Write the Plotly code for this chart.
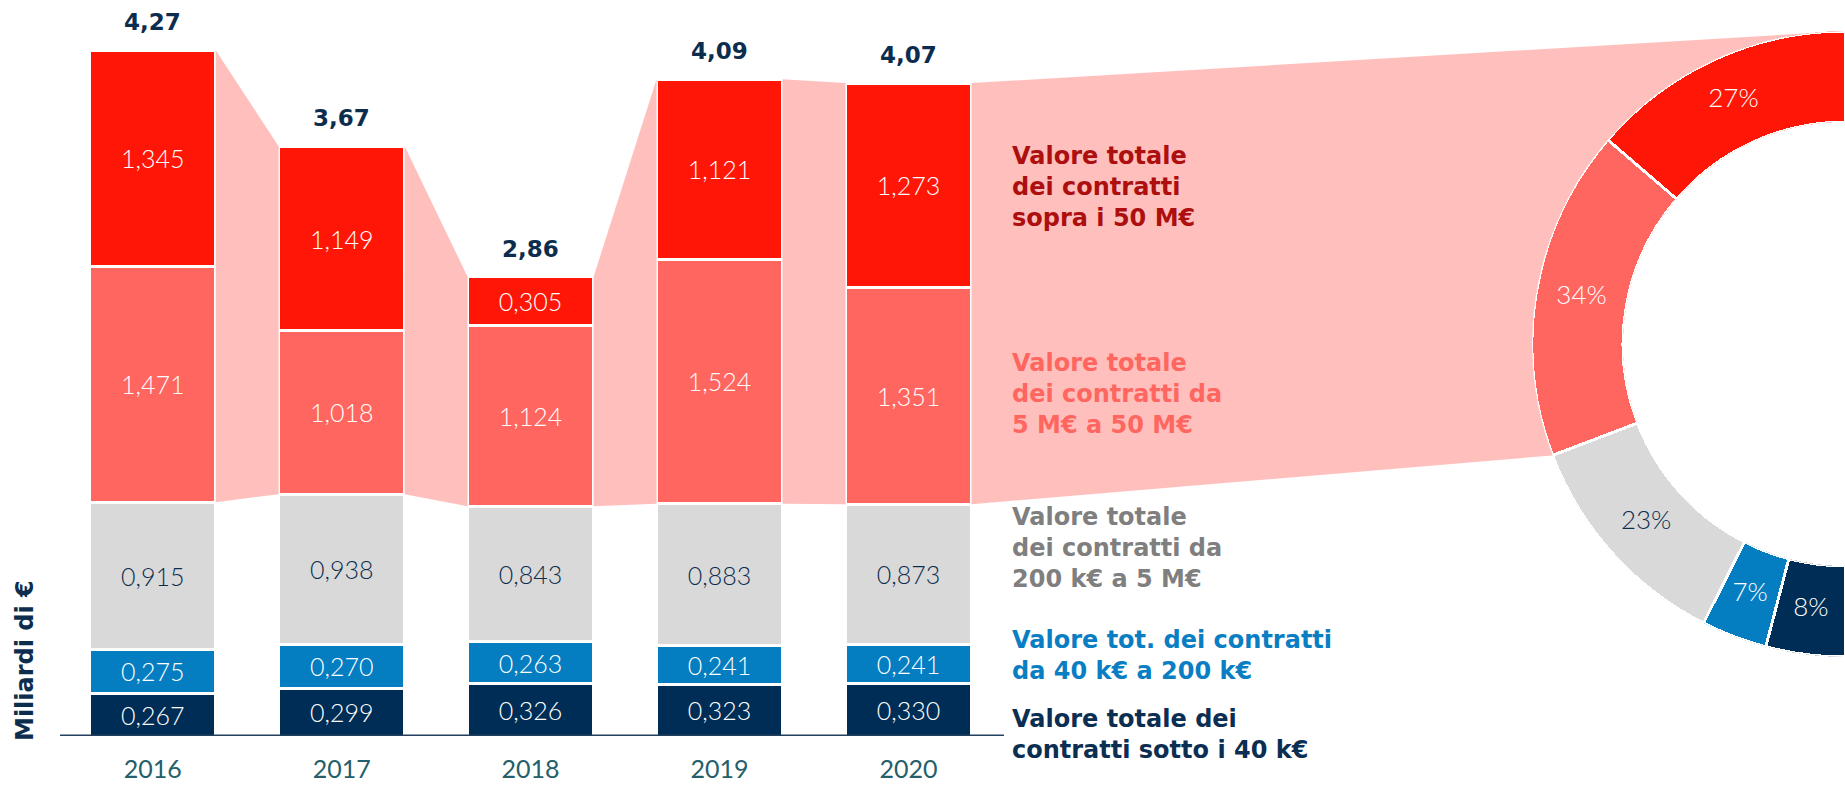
import math
import plotly.graph_objects as go

# ---------------- data ----------------
years = ["2016", "2017", "2018", "2019", "2020"]
sotto_40k = [0.267, 0.299, 0.326, 0.323, 0.330]
da_40k_200k = [0.275, 0.270, 0.263, 0.241, 0.241]
da_200k_5M = [0.915, 0.938, 0.843, 0.883, 0.873]
da_5M_50M = [1.471, 1.018, 1.124, 1.524, 1.351]
sopra_50M = [1.345, 1.149, 0.305, 1.121, 1.273]

legend_texts = [
    "Valore totale<br>dei contratti<br>sopra i 50 M€",
    "Valore totale<br>dei contratti da<br>5 M€ a 50 M€",
    "Valore totale<br>dei contratti da<br>200 k€ a 5 M€",
    "Valore tot. dei contratti<br>da 40 k€ a 200 k€",
    "Valore totale dei<br>contratti sotto i 40 k€",
]
y_title = "Miliardi di €"

# ---------------- style / layout constants ----------------
W, H = 1845, 786
BASE_PX = 736.0          # pixel row of value 0 (= bottom of plot area)
PX_PER_Y = 160.5         # pixels per billion
X0_PX = 152.7            # pixel column of first category
PX_PER_X = 188.95        # pixels per category step
BAR_W = 0.667

C_RED = "#FF1607"
C_SALMON = "#FF6660"
C_GRAY = "#D9D9D9"
C_BLUE = "#047DC1"
C_NAVY = "#002D55"
C_BAND = "#FFC0BD"
C_TXT_NAVY = "#0D2D4F"

# donut geometry (pixels)
D_CX, D_CY, D_R, D_HOLE = 1845.0, 344.0, 313.0, 0.709

BOLD = "DejaVu Sans"
LIGHT = "Lato"


def xu(px):
    return (px - X0_PX) / PX_PER_X


def yu(py):
    return (BASE_PX - py) / PX_PER_Y


def py_paper(py):
    # paper coordinates span the plot area (top 0 .. bottom BASE_PX)
    return 1 - py / BASE_PX


xs = list(range(len(years)))
series = [
    (sotto_40k, C_NAVY, "white"),
    (da_40k_200k, C_BLUE, "white"),
    (da_200k_5M, C_GRAY, C_TXT_NAVY),
    (da_5M_50M, C_SALMON, "white"),
    (sopra_50M, C_RED, "white"),
]

totals = [sum(v) for v in zip(sotto_40k, da_40k_200k, da_200k_5M, da_5M_50M, sopra_50M)]
bases = [a + b + c for a, b, c in zip(sotto_40k, da_40k_200k, da_200k_5M)]

fig = go.Figure()

# ---- pink connector bands between bars (red + salmon parts) ----
for i in range(len(xs) - 1):
    xa = xs[i] + BAR_W / 2
    xb = xs[i + 1] - BAR_W / 2
    fig.add_trace(go.Scatter(
        x=[xa, xb, xb, xa, xa],
        y=[totals[i], totals[i + 1], bases[i + 1], bases[i], totals[i]],
        fill="toself", fillcolor=C_BAND, mode="lines", line=dict(width=0),
        hoverinfo="skip", showlegend=False))

# ---- donut shares (sum over the years) ----
donut_vals = [sum(sopra_50M), sum(da_5M_50M), sum(da_200k_5M), sum(da_40k_200k), sum(sotto_40k)]
donut_cols = [C_RED, C_SALMON, C_GRAY, C_BLUE, C_NAVY]
donut_txtcol = ["white", "white", C_TXT_NAVY, "white", "white"]
grand = sum(donut_vals)
fracs = [v / grand for v in donut_vals]
mids, spans = [], []
acc = 0.0
for f in fracs:
    s = 90 + acc * 180
    e = 90 + (acc + f) * 180
    spans.append(e - s)
    mids.append((s + e) / 2)
    acc += f


def donut_pt(theta_deg, rfrac):
    a = math.radians(theta_deg)
    px = D_CX + D_R * rfrac * math.cos(a)
    py = D_CY - D_R * rfrac * math.sin(a)
    return xu(px), yu(py)


# ---- big band from the 2020 bar to the donut ----
last = len(xs) - 1
theta_end = 90 + (fracs[0] + fracs[1]) * 180
bx, by = [xs[last] + BAR_W / 2], [totals[last]]
p = donut_pt(90, 1.0)
bx.append(p[0]); by.append(p[1])
n = 40
for k in range(n + 1):
    t = 90 + (theta_end - 90) * k / n
    p = donut_pt(t, 0.86)
    bx.append(p[0]); by.append(p[1])
p = donut_pt(theta_end, 1.0)
bx.append(p[0]); by.append(p[1])
bx += [xs[last] + BAR_W / 2, xs[last] + BAR_W / 2]
by += [bases[last], totals[last]]
fig.add_trace(go.Scatter(x=bx, y=by, fill="toself", fillcolor=C_BAND, mode="lines",
                         line=dict(width=0), hoverinfo="skip", showlegend=False))

# ---- stacked bars ----
for vals, col, tcol in series:
    fig.add_trace(go.Bar(
        x=xs, y=vals, width=BAR_W,
        marker=dict(color=col, line=dict(color="white", width=3)),
        texttemplate="%{y:.3f}", textposition="inside", insidetextanchor="middle",
        textangle=0, constraintext="none",
        insidetextfont=dict(family=LIGHT, size=25, color=tcol, weight=300),
        hoverinfo="skip", showlegend=False))

# ---- donut (half ring) ----
fig.add_trace(go.Barpolar(
    r=[1] * len(donut_vals), theta=mids, width=spans,
    marker=dict(color=donut_cols, line=dict(color="white", width=3)),
    hoverinfo="skip", showlegend=False, subplot="polar"))
fig.add_trace(go.Scatterpolar(
    r=[0.5] * len(donut_vals), theta=mids, mode="text",
    text=[f"{round(f * 100)}%" for f in fracs],
    textfont=dict(family=LIGHT, size=26, color=donut_txtcol, weight=300),
    hoverinfo="skip", showlegend=False, subplot="polar"))

# ---- annotations ----
ann = []
for i, t in enumerate(totals):
    ann.append(dict(x=xs[i], y=t, xref="x", yref="y", yanchor="bottom", yshift=13,
                    text=f"{t:.2f}".replace(".", ","), showarrow=False,
                    font=dict(family=BOLD, size=23, color=C_TXT_NAVY, weight="bold")))

leg_cols = ["#AD0E0E", "#FF6660", "#7F7F7F", "#0A7EC2", "#0B2E52"]
leg_y_px = [187, 394, 548, 655, 734]
for txt, col, ypx in zip(legend_texts, leg_cols, leg_y_px):
    ann.append(dict(x=1010 / W, y=py_paper(ypx), xref="paper", yref="paper",
                    xanchor="left", yanchor="middle", align="left", text=txt,
                    showarrow=False,
                    font=dict(family=BOLD, size=24, color=col, weight="bold")))

ann.append(dict(x=25 / W, y=py_paper(661), xref="paper", yref="paper", textangle=-90,
                xanchor="center", yanchor="middle", text=y_title, showarrow=False,
                font=dict(family=BOLD, size=24, color=C_TXT_NAVY, weight="bold")))

# ---- layout ----
fig.update_layout(
    width=W, height=H, template="none",
    margin=dict(l=0, r=0, t=0, b=H - BASE_PX, pad=0),
    paper_bgcolor="white", plot_bgcolor="rgba(0,0,0,0)",
    barmode="stack", separators=",.",
    showlegend=False,
    xaxis=dict(range=[xu(0), xu(W)], tickvals=xs, ticktext=years, showgrid=False,
               zeroline=False, showline=False, ticks="", ticklabelstandoff=16,
               tickfont=dict(family=LIGHT, size=25, color="#245F6B"), fixedrange=True),
    yaxis=dict(range=[0, BASE_PX / PX_PER_Y], visible=False, showgrid=False,
               zeroline=False, fixedrange=True),
    polar=dict(
        domain=dict(x=[(D_CX - D_R) / W, 1.0],
                    y=[py_paper(D_CY + D_R), py_paper(D_CY - D_R)]),
        sector=[90, 270], hole=D_HOLE, bgcolor="rgba(0,0,0,0)",
        radialaxis=dict(visible=False, range=[0, 1]),
        angularaxis=dict(visible=False, rotation=0, direction="counterclockwise"),
    ),
    shapes=[dict(type="line", xref="x", yref="y", x0=xu(60), x1=xu(1004), y0=0, y1=0,
                 line=dict(color="#223F5E", width=3), layer="above")],
    annotations=ann,
)

fig.write_html("out.html", config={"displayModeBar": False},
               post_script="document.body.style.margin='0';document.body.style.overflow='hidden';")
